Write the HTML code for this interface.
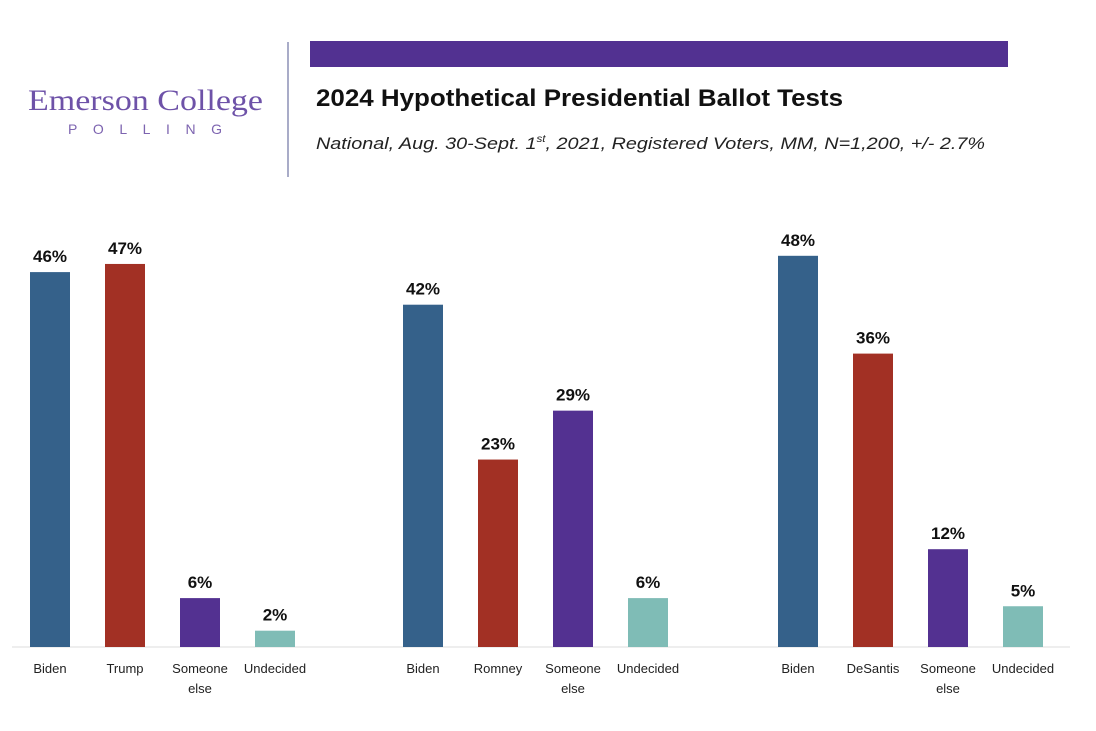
<!DOCTYPE html>
<html><head><meta charset="utf-8"><style>
body{margin:0;background:#fff;width:1096px;height:726px;overflow:hidden;font-family:"Liberation Sans",sans-serif}
</style></head><body>
<svg width="1096" height="726">
<rect x="310" y="41" width="698" height="26" fill="#523191"/>
<line x1="288" y1="42" x2="288" y2="177" stroke="#a9acc8" stroke-width="2"/>
<text x="28" y="110" textLength="235" lengthAdjust="spacingAndGlyphs" font-family="Liberation Serif,serif" font-size="30" fill="#6e52a8">Emerson College</text>
<text x="68" y="134" textLength="154" font-size="14" fill="#7d64b0">POLLING</text>
<text x="316" y="106" textLength="527" lengthAdjust="spacingAndGlyphs" font-size="24" font-weight="bold" fill="#111">2024 Hypothetical Presidential Ballot Tests</text>
<text x="316" y="149" font-size="17" font-style="italic" fill="#222" textLength="669" lengthAdjust="spacingAndGlyphs">National, Aug. 30-Sept. 1<tspan font-size="10" dy="-7">st</tspan><tspan dy="7">, 2021, Registered Voters, MM, N=1,200, +/- 2.7%</tspan></text>
<line x1="12" y1="647" x2="1070" y2="647" stroke="#ddd" stroke-width="1"/>
<g id="bars"></g>
</svg>
<script>
const groupStarts=[30,403,778];
const categories=[["Biden","Trump","Someone else","Undecided"],["Biden","Romney","Someone else","Undecided"],["Biden","DeSantis","Someone else","Undecided"]];
const values=[[46,47,6,2],[42,23,29,6],[48,36,12,5]];
const colors=["#35618a","#a23024","#533191","#7fbcb6"];
const base=647, scale=8.15, step=75, bw=40;
const y=v=>base-v*scale;
const g=document.getElementById('bars');
const NS="http://www.w3.org/2000/svg";
values.forEach((grp,gi)=>grp.forEach((v,i)=>{
 const x=groupStarts[gi]+i*step;
 const r=document.createElementNS(NS,'rect');
 r.setAttribute('x',x);r.setAttribute('y',y(v));r.setAttribute('width',bw);r.setAttribute('height',base-y(v));r.setAttribute('fill',colors[i]);
 
 
 g.appendChild(r);
 const t=document.createElementNS(NS,'text');
 t.setAttribute('x',x+bw/2);t.setAttribute('y',y(v)-10);t.setAttribute('text-anchor','middle');t.setAttribute('font-size','17');t.setAttribute('font-weight','bold');t.setAttribute('fill','#111');
 t.textContent=v+'%';
 
 
 g.appendChild(t);
 const words=categories[gi][i].split(' ');
 words.forEach((w,wi)=>{
  const l=document.createElementNS(NS,'text');
  l.setAttribute('x',x+bw/2);l.setAttribute('y',673+wi*20);l.setAttribute('text-anchor','middle');l.setAttribute('font-size','13');l.setAttribute('fill','#222');
  l.textContent=w;
  
  
  g.appendChild(l);
 });
}));
</script>
</body></html>
